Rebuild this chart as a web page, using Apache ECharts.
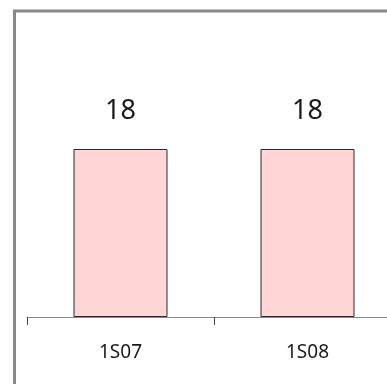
<!DOCTYPE html>
<html>
<head>
<meta charset="utf-8">
<script src="https://cdn.jsdelivr.net/npm/echarts@6/dist/echarts.min.js"></script>
<style>
  html, body { margin: 0; padding: 0; background: #ffffff; }
  #chart { width: 387px; height: 384px; }
</style>
</head>
<body>
<div id="chart"></div>
<script>
// Sample counts per batch
const categories = ['1S07', '1S08'];
const counts = [18, 18];

const chart = echarts.init(document.getElementById('chart'), null, { renderer: 'canvas' });

chart.setOption({
  animation: false,
  backgroundColor: '#ffffff',
  graphic: [{
    type: 'rect',
    silent: true,
    z: 100,
    shape: { x: 14.5, y: 11, width: 600, height: 600 },
    style: { fill: 'none', stroke: '#8a8a8a', lineWidth: 3 }
  }],
  grid: {
    left: 27, width: 374, top: 37, bottom: 67,
    containLabel: false,
    outerBoundsMode: 'none'
  },
  xAxis: {
    type: 'category',
    data: categories,
    axisLine: { show: true, lineStyle: { color: '#888888', width: 1 } },
    axisTick: { show: true, length: 8, alignWithLabel: false, lineStyle: { color: '#444444' } },
    axisLabel: {
      margin: 26,
      fontFamily: 'Noto Sans',
      fontSize: 19,
      color: '#1a1a1a'
    }
  },
  yAxis: {
    type: 'value',
    min: 0,
    max: 30,
    show: false
  },
  series: [{
    type: 'bar',
    data: counts,
    barWidth: 94,
    itemStyle: { color: '#ffd5d6', borderColor: '#2a2a2a', borderWidth: 1 },
    label: {
      show: true,
      position: 'top',
      distance: 24,
      fontFamily: 'Noto Sans',
      fontSize: 27,
      color: '#1a1a1a'
    }
  }]
});
</script>
</body>
</html>
